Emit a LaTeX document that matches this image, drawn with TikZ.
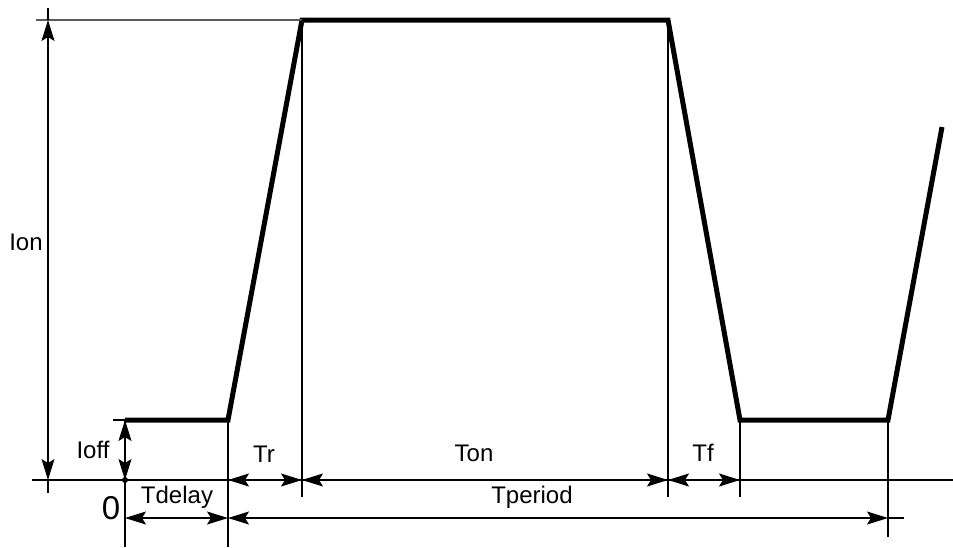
\documentclass[tikz,border=0pt]{standalone}
\usepackage{fontspec}
\setmainfont{Liberation Sans}
\usetikzlibrary{arrows.meta}

\begin{document}
\begin{tikzpicture}[x=1pt, y=-1pt, >={Stealth[length=21pt, width=13pt, inset=4pt]}]
% --- Global Styles ---
\tikzstyle{wave} = [line width=5pt, line join=miter]
\tikzstyle{extline} = [line width=1.1pt]
\tikzstyle{dim} = [<->, line width=1.1pt]
\tikzstyle{lbl} = [font=\fontsize{24}{28}\selectfont, inner sep=0pt]

\useasboundingbox (0,0) rectangle (953,547);

% --- Level and time coordinates ---
\def\yon{20}     % I_on level
\def\yoff{420}   % I_off level
\def\yz{480}     % zero line
\def\yd{518}     % lower dimension row

% ==========================================
% Waveform
% ==========================================
\coordinate (w0) at (125,\yoff);
\coordinate (w1) at (228,\yoff);
\coordinate (w2) at (302,\yon);
\coordinate (w3) at (668,\yon);
\coordinate (w4) at (740,\yoff);
\coordinate (w5) at (888,\yoff);
\coordinate (w6) at (942,127);
\draw[wave] (w0) -- (w1) -- (w2) -- (w3) -- (w4) -- (w5) -- (w6);

% ==========================================
% Extension lines
% ==========================================
\draw[extline] (32,\yz) -- (953,\yz);
\draw[extline, gray!70!black] (36,\yon) -- (w2);
\draw[extline] (113,\yoff) -- (w0);
\draw[extline] (w0) -- (125,547);
\draw[extline] (w1) -- (228,547);
\draw[extline] (w2) -- (302,497);
\draw[extline] (w3) -- (668,497);
\draw[extline] (w4) -- (740,497);
\draw[extline] (w5) -- (888,537);

% ==========================================
% Vertical dimensions
% ==========================================
\coordinate (ion top) at (48,\yon);
\coordinate (ion bot) at (48,\yz);
\draw[extline] (48,8) -- (ion top);
\draw[extline] (ion bot) -- (48,493);
\draw[dim] (ion top) -- (ion bot);
\node[lbl] (ion) at (26,242) {Ion};

\coordinate (zero) at (125,\yz);
\draw[dim] (w0) -- (zero);
\fill (zero) circle (3pt);
\node[lbl] (ioff) at (93,450) {Ioff};
\node[lbl, font=\fontsize{33}{36}\selectfont] (zlbl) at (111,508) {0};

% ==========================================
% Horizontal dimensions
% ==========================================
\coordinate (tr a) at (228,\yz);
\coordinate (tr b) at (302,\yz);
\coordinate (tf a) at (668,\yz);
\coordinate (tf b) at (740,\yz);
\draw[dim] (tr a) -- (tr b);
\draw[dim] (tr b) -- (tf a);
\draw[dim] (tf a) -- (tf b);
\node[lbl] (tr) at (264,454) {Tr};
\node[lbl] (ton) at (474,453) {Ton};
\node[lbl] (tf) at (703,453) {Tf};

\coordinate (td a) at (125,\yd);
\coordinate (td b) at (228,\yd);
\coordinate (tp b) at (888,\yd);
\draw[dim] (td a) -- (td b);
\draw[dim] (td b) -- (tp b);
\draw[extline] (tp b) -- (904,\yd);
\node[lbl] (tdelay) at (177,497) {Tdelay};
\node[lbl] (tperiod) at (532,497) {Tperiod};

\end{tikzpicture}
\end{document}
